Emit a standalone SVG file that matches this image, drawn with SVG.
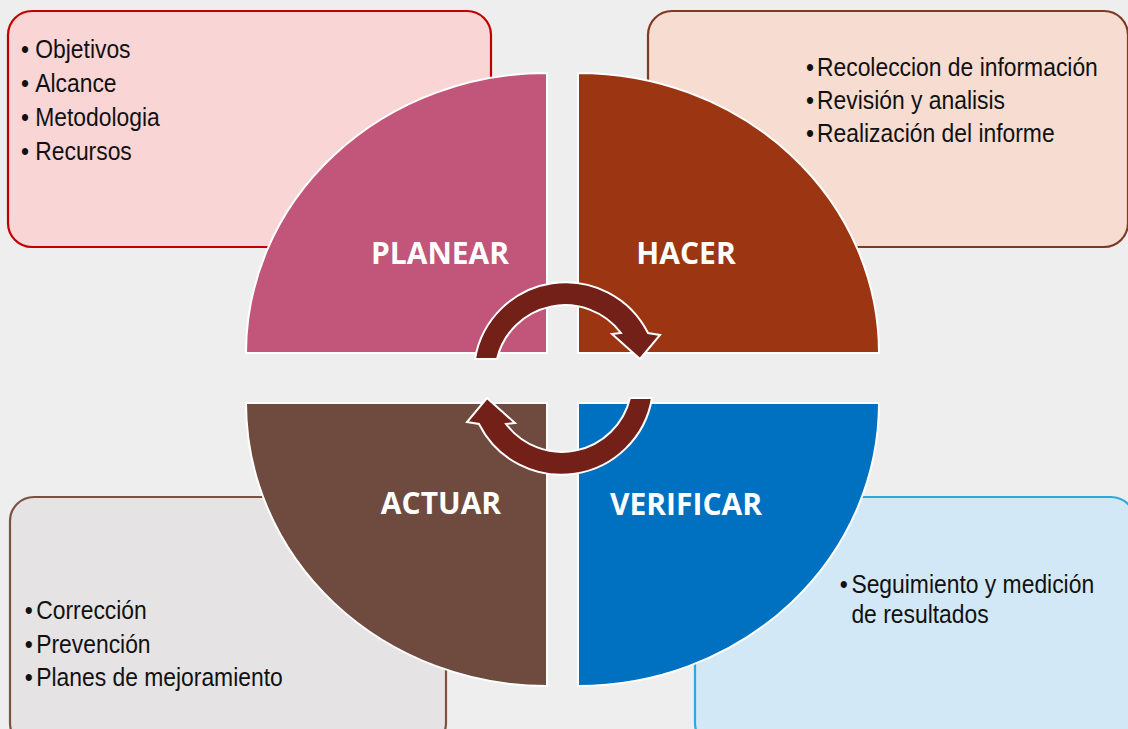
<svg xmlns="http://www.w3.org/2000/svg" width="1128" height="729" viewBox="0 0 1128 729">
  <style>
    .li { font-family: "Liberation Sans", Arial, sans-serif; font-size: 26px; fill: #111111; }
    .ttl { font-family: "Open Sans", "Liberation Sans", sans-serif; font-weight: bold; font-size: 30px; fill: #ffffff; text-anchor: middle; }
    .q { stroke: #ffffff; stroke-width: 2; }
    .box { stroke-width: 2.2; }
    .arrow { fill: #722018; stroke: #ffffff; stroke-width: 2; stroke-linejoin: miter; }
  </style>
  <defs>
    <path id="cycArrow" d="M 475,359 A 92 92 0 0 1 648,333 L 660,335 L 640,359 L 612,334 L 621,333 A 70 70 0 0 0 497,359 Z"/>
  </defs>
  <rect x="0" y="0" width="1128" height="729" fill="#eeeeee"/>

  <g id="node-planear">
    <rect class="box" x="8" y="11" width="483" height="236" rx="24" fill="#fad5d6" stroke="#c00000"/>
    <g transform="translate(21 0) scale(0.88 1)">
      <text class="li"><tspan x="0" y="58">•</tspan><tspan x="16.2" y="58">Objetivos</tspan></text>
      <text class="li"><tspan x="0" y="92">•</tspan><tspan x="16.2" y="92">Alcance</tspan></text>
      <text class="li"><tspan x="0" y="126">•</tspan><tspan x="16.2" y="126">Metodologia</tspan></text>
      <text class="li"><tspan x="0" y="160">•</tspan><tspan x="16.2" y="160">Recursos</tspan></text>
    </g>
    <path class="q" d="M 547,353 L 246,353 A 301 280 0 0 1 547,73 Z" fill="#c1567a"/>
    <text class="ttl" x="440" y="264">PLANEAR</text>
  </g>

  <g id="node-hacer">
    <rect class="box" x="648" y="11" width="480" height="236" rx="24" fill="#f6dcd1" stroke="#7f3a22"/>
    <g transform="translate(806 0) scale(0.88 1)">
      <text class="li"><tspan x="0" y="76">•</tspan><tspan x="12.5" y="76">Recoleccion de información</tspan></text>
      <text class="li"><tspan x="0" y="109">•</tspan><tspan x="12.5" y="109">Revisión y analisis</tspan></text>
      <text class="li"><tspan x="0" y="142">•</tspan><tspan x="12.5" y="142">Realización del informe</tspan></text>
    </g>
    <path class="q" d="M 578,353 L 578,73 A 301 280 0 0 1 879,353 Z" fill="#9c3512"/>
    <text class="ttl" x="686" y="264">HACER</text>
  </g>

  <g id="node-actuar">
    <rect class="box" x="10" y="497" width="436" height="250" rx="24" fill="#e6e3e4" stroke="#7b5242"/>
    <g transform="translate(24.7 0) scale(0.88 1)">
      <text class="li"><tspan x="0" y="619">•</tspan><tspan x="13.1" y="619">Corrección</tspan></text>
      <text class="li"><tspan x="0" y="653">•</tspan><tspan x="13.1" y="653">Prevención</tspan></text>
      <text class="li"><tspan x="0" y="686">•</tspan><tspan x="13.1" y="686">Planes de mejoramiento</tspan></text>
    </g>
    <path class="q" d="M 547,403 L 547,686 A 301 283 0 0 1 246,403 Z" fill="#6f4a3e"/>
    <text class="ttl" x="441" y="514">ACTUAR</text>
  </g>

  <g id="node-verificar">
    <rect class="box" x="695" y="497" width="440" height="250" rx="24" fill="#d3e8f6" stroke="#2ea9e0"/>
    <g transform="translate(839.8 0) scale(0.88 1)">
      <text class="li"><tspan x="0" y="593">•</tspan><tspan x="13.2" y="593">Seguimiento y medición</tspan></text>
      <text class="li"><tspan x="13.2" y="623">de resultados</tspan></text>
    </g>
    <path class="q" d="M 578,403 L 879,403 A 301 283 0 0 1 578,686 Z" fill="#0070c0"/>
    <text class="ttl" x="686" y="515">VERIFICAR</text>
  </g>

  <g id="connectors">
    <use href="#cycArrow" class="arrow"/>
    <use href="#cycArrow" class="arrow" transform="rotate(180 563.5 378.5)"/>
  </g>
</svg>
